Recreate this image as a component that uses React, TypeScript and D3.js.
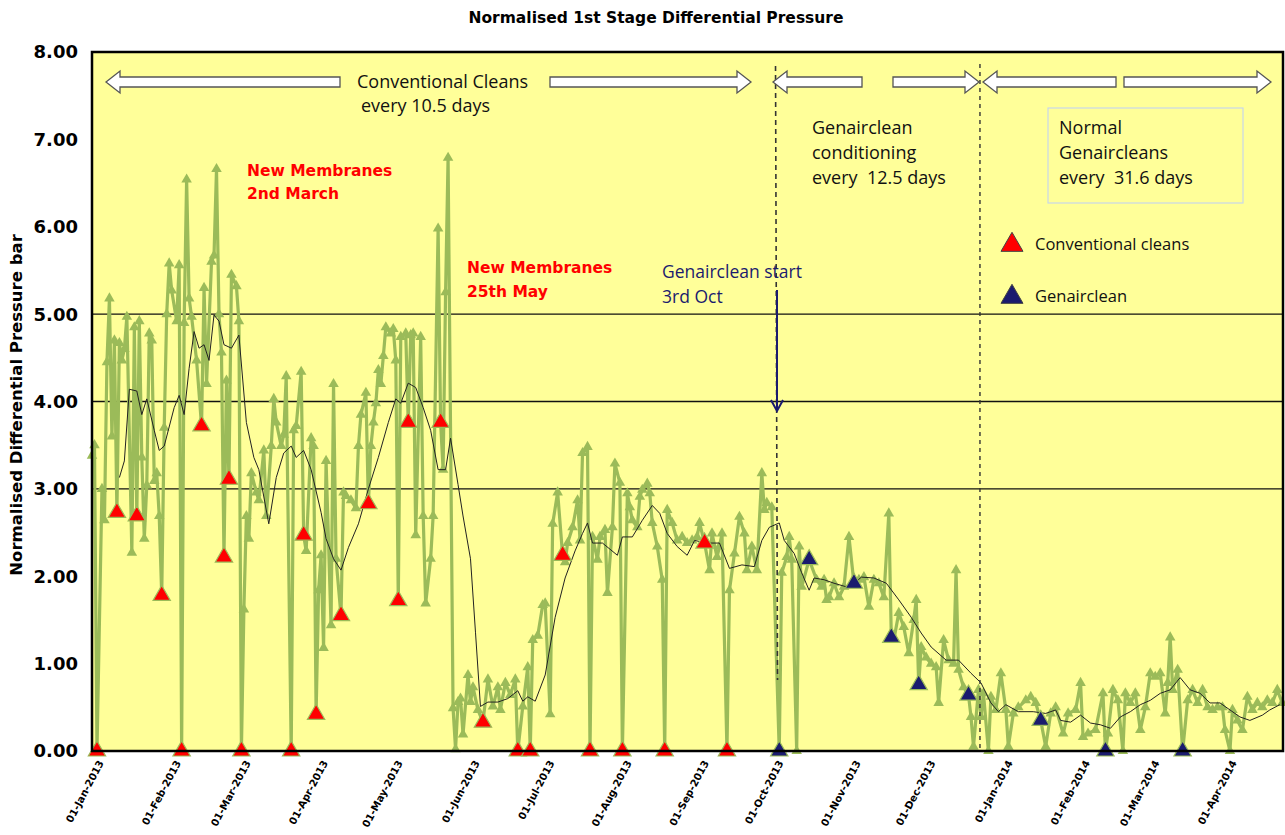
import React, { useEffect, useRef } from 'react';
import * as d3 from 'd3';

// daily normalised dP readings (day offset from 01-Jan-2013, bar)
const dpDays = [
  0, 1, 2, 4, 5, 6, 7, 8, 9, 10, 11, 12, 13, 14, 16, 17, 18, 19, 20, 21, 22, 23, 24, 25, 26, 27, 28, 29, 30, 31,
  32, 34, 35, 36, 37, 38, 39, 40, 42, 44, 45, 46, 48, 49, 50, 51, 52, 53, 54, 55, 56, 58, 59, 60, 61, 62, 63, 64,
  66, 67, 69, 70, 72, 73, 74, 76, 77, 78, 80, 81, 82, 84, 85, 86, 88, 89, 90, 91, 92, 93, 94, 96, 97, 98, 100,
  101, 102, 104, 106, 107, 108, 110, 111, 112, 113, 114, 115, 116, 117, 118, 120, 121, 122, 123, 124, 126, 127,
  128, 129, 130, 132, 133, 134, 136, 137, 139, 140, 141, 142, 143, 145, 146, 147, 148, 149, 151, 152, 153, 155,
  157, 159, 161, 163, 164, 166, 168, 170, 171, 173, 175, 176, 177, 179, 181, 182, 184, 185, 187, 189, 190, 191,
  193, 195, 196, 197, 199, 200, 201, 203, 204, 206, 207, 209, 210, 212, 213, 215, 216, 217, 219, 220, 221, 223,
  224, 225, 227, 229, 230, 231, 233, 235, 237, 239, 241, 243, 244, 246, 248, 249, 251, 252, 253, 255, 256, 258,
  260, 262, 263, 265, 267, 269, 270, 271, 273, 276, 277, 279, 280, 281, 283, 284, 285, 288, 291, 293, 294, 295,
  296, 298, 300, 302, 304, 306, 308, 310, 312, 314, 316, 318, 320, 321, 322, 324, 326, 328, 330, 331, 332, 333,
  335, 337, 339, 340, 342, 344, 346, 347, 348, 350, 352, 353, 354, 356, 357, 358, 360, 361, 363, 365, 367, 368,
  370, 372, 375, 377, 379, 381, 383, 385, 387, 390, 392, 395, 397, 398, 400, 403, 406, 407, 408, 410, 412, 414,
  415, 417, 419, 421, 423, 425, 427, 429, 431, 432, 433, 434, 436, 438, 440, 442, 444, 446, 448, 450, 452, 454,
  455, 457, 458, 460, 462, 464, 466, 468, 470, 472, 474, 476, 478
];
const dpValues = [
  3.38, 3.5, 0, 3.0, 2.64, 4.45, 5.18, 3.6, 4.7, 2.73, 4.67, 4.47, 4.6, 4.97, 2.27, 4.85, 2.69, 4.92, 3.36, 2.43,
  3.04, 4.78, 4.7, 3.09, 3.18, 2.69, 1.78, 3.7, 5.0, 5.58,
  5.27, 4.92, 5.56, 0, 4.9, 6.54, 5.18, 4.97, 4.47, 3.72, 5.3, 4.2, 5.6, 5.67, 6.66, 5.0, 4.56, 2.22, 4.24, 3.11,
  5.45, 5.32, 4.92, 0, 1.62, 2.69, 2.43, 3.18,
  2.96, 2.87, 3.44, 2.69, 3.49, 4.03, 3.76, 3.49, 3.62, 4.29, 0, 3.67, 3.72, 4.34, 2.47, 2.29, 3.58, 3.49, 0.42,
  1.84, 2.24, 1.18, 3.32, 1.44, 4.2, 2.2, 1.55,
  2.96, 2.92, 2.87, 2.78, 3.49, 3.85, 4.1, 2.83, 3.49, 3.76, 3.98, 4.36, 4.2, 4.52, 4.85, 4.78, 4.83, 4.47, 1.72,
  4.74, 4.78, 3.76,
  4.76, 4.78, 2.47, 4.74, 2.69, 1.69, 2.2, 2.69, 5.98, 3.76, 3.22, 5.25, 6.79, 0.49, 0.02, 0.56, 0.6, 0.19, 0.87,
  0.56, 0.73, 0.47,
  0.33, 0.82, 0.51, 0.73, 0.47, 0.78, 0.64, 0.82, 0, 0.51, 0.96, 0, 1.27, 1.32, 1.67, 1.69, 0.42, 2.6, 2.96, 2.24,
  2.16, 2.38,
  2.56, 2.87, 2.41, 3.41, 3.48, 0, 2.45, 2.19, 2.45, 2.53, 1.81, 2.56, 3.29, 3.07, 0, 2.95, 2.79, 2.64, 2.56, 2.91,
  2.99, 3.06,
  2.95, 2.61, 2.34, 1.96, 0, 2.76, 2.61, 2.41, 2.45, 2.38, 2.41, 2.45, 2.61, 2.38, 2.07, 2.49, 2.22, 2.34, 2.49, 0,
  1.84, 2.26,
  2.68, 2.49, 2.07, 2.34, 2.07, 3.18, 2.76, 2.84, 2.79, 0, 2.04, 2.22, 2.45, 2.19, 0, 2.34, 1.88, 2.19, 1.96, 1.88,
  1.96, 1.73,
  1.76, 1.92, 1.76, 1.88, 2.45, 1.92, 1.96, 1.99, 1.65, 1.96, 1.92, 1.76, 2.72, 1.3, 1.27, 1.58, 1.42, 1.12, 1.5,
  1.73, 0.76, 1.19,
  1.07, 1.0, 0.96, 0.55, 1.27, 1.04, 1.0, 2.07, 0.93, 0.73, 0.64, 0.39, 0.05, 0.7, 0.39, 0.66, 0, 0.62, 0.47, 0.89,
  0.47, 0.05,
  0.43, 0.5, 0.58, 0.62, 0.55, 0.35, 0.05, 0.43, 0.5, 0.2, 0.43, 0.47, 0.78, 0.16, 0.2, 0.24, 0.66, 0, 0.2, 0.7,
  0.58, 0,
  0.66, 0.55, 0.66, 0.24, 0.5, 0.89, 0.85, 0.89, 0.43, 0.78, 1.3, 0.7, 0.93, 0, 0.58, 0.7, 0.55, 0.7, 0.5, 0.47,
  0.5, 0.5,
  0.24, 0, 0.47, 0.35, 0.24, 0.62, 0.47, 0.55, 0.5, 0.58, 0.55, 0.7, 0.55
];

// moving average trend
const trendDays = [
  11, 13, 15, 18, 20, 22, 25, 27, 29, 33, 35, 37, 39, 41, 43, 45, 47, 49, 51, 53, 56, 59, 62, 65, 67, 71, 74, 77,
  80, 82, 85, 88, 92, 94, 97, 100, 103, 107, 111, 115, 119, 122, 124, 127, 130, 133, 136, 139, 142, 144, 147, 149,
  152, 154, 156, 159, 163, 167, 171, 173, 175, 178, 182, 186, 190, 194, 197, 199, 201, 205, 211, 213, 217, 221,
  225, 228, 231, 235, 239, 242, 247, 252, 256, 261, 266, 269, 272, 276, 278, 282, 285, 288, 290, 294, 298, 304,
  309, 314, 319, 324, 329, 333, 337, 343, 348, 353, 357, 361, 364, 367, 372, 378, 383, 387, 389, 393, 397, 401,
  405, 409, 413, 417, 421, 425, 429, 433, 437, 441, 445, 449, 453, 457, 461, 465, 470, 473, 477
];
const trendValues = [
  3.13, 3.32, 4.14, 4.12, 3.85, 4.03, 3.67, 3.44, 3.49, 3.93, 4.07, 3.85, 4.38, 4.8, 4.61, 4.65, 4.47, 4.99, 4.92,
  4.65, 4.61, 4.76, 3.76, 3.36, 3.22, 2.6, 3.13, 3.41,
  3.49, 3.36, 3.44, 3.22, 2.73, 2.43, 2.2, 2.07, 2.33, 2.6, 3.0, 3.36, 3.76, 4.03, 3.98, 4.21, 4.16, 3.93, 3.67,
  3.22, 3.22, 3.58, 3.05, 2.69,
  2.2, 1.36, 0.51, 0.56, 0.56, 0.6, 0.69, 0.57, 0.62, 0.57, 0.87, 1.53, 1.98, 2.29, 2.49, 2.61, 2.38, 2.38, 2.24,
  2.45, 2.45, 2.64,
  2.81, 2.72, 2.49, 2.34, 2.24, 2.41, 2.38, 2.38, 2.09, 2.13, 2.11, 2.41, 2.56, 2.61, 2.41, 2.26, 2.04, 1.84, 1.98,
  1.96, 1.92, 1.87,
  1.99, 1.98, 1.92, 1.73, 1.53, 1.35, 1.19, 1.04, 1.04, 0.89, 0.78, 0.55, 0.45, 0.53, 0.45, 0.45, 0.43, 0.47, 0.35,
  0.33, 0.41, 0.32,
  0.3, 0.26, 0.39, 0.45, 0.53, 0.58, 0.66, 0.7, 0.84, 0.7, 0.66, 0.55, 0.55, 0.47, 0.39, 0.35, 0.41, 0.47, 0.53
];

// conventional cleans (red) and Genairclean (navy) events
const conventionalDays = [2, 10, 18, 28, 36, 44, 53, 55, 60, 80, 85, 90, 100, 111, 123, 127, 140, 157, 171, 176, 189, 200, 213, 230, 246, 255];
const conventionalValues = [0, 2.73, 2.69, 1.78, 0, 3.72, 2.22, 3.11, 0, 0, 2.47, 0.42, 1.55, 2.83, 1.72, 3.76, 3.76, 0.33, 0, 0, 2.24, 0, 0, 0, 2.38, 0];
const genaircleanDays = [276, 288, 306, 321, 332, 352, 381, 407, 438];
const genaircleanValues = [0, 2.19, 1.92, 1.3, 0.76, 0.64, 0.35, 0, 0];

const yTicks = [0, 1, 2, 3, 4, 5, 6, 7, 8];
const gridValues = [3, 4, 5];
const lastDay = 478.3;

const GREEN = '#9BBB59';
const RED = '#FF0000';
const NAVY = '#1B1B6E';

const App: React.FC = () => {
  const svgRef = useRef<SVGSVGElement>(null);

  useEffect(() => {
    if (!svgRef.current) return;
    const svg = d3.select(svgRef.current);
    svg.selectAll('*').remove();

    const left = 92, right = 1283, top = 52, bottom = 751;
    const start = new Date(Date.UTC(2013, 0, 1));
    const toDate = (d: number) => new Date(start.getTime() + d * 86400000);

    const x = d3.scaleUtc().domain([start, toDate(lastDay)]).range([left, right]);
    const y = d3.scaleLinear().domain([0, 8]).range([bottom, top]);

    // plot area
    svg.append('rect')
      .attr('x', left).attr('y', top)
      .attr('width', right - left).attr('height', bottom - top)
      .attr('fill', '#FFFF99');

    svg.selectAll('line.grid')
      .data(gridValues)
      .enter().append('line')
      .attr('x1', left).attr('x2', right)
      .attr('y1', d => y(d)).attr('y2', d => y(d))
      .attr('stroke', '#111').attr('stroke-width', 1.3);

    // main series
    const pts = dpDays.map((d, i) => ({ date: toDate(d), v: dpValues[i] }));
    const line = d3.line<{ date: Date; v: number }>().x(d => x(d.date)).y(d => y(d.v));
    svg.append('path')
      .datum(pts)
      .attr('fill', 'none')
      .attr('stroke', GREEN)
      .attr('stroke-width', 3.2)
      .attr('stroke-linejoin', 'round')
      .attr('d', line);

    const smallTri = d3.symbol().type(d3.symbolTriangle).size(48)();
    svg.append('g').selectAll('path')
      .data(pts)
      .enter().append('path')
      .attr('d', smallTri)
      .attr('transform', d => `translate(${x(d.date)},${y(d.v)})`)
      .attr('fill', GREEN);

    // moving average
    const trend = trendDays.map((d, i) => ({ date: toDate(d), v: trendValues[i] }));
    svg.append('path')
      .datum(trend)
      .attr('fill', 'none')
      .attr('stroke', '#222')
      .attr('stroke-width', 1)
      .attr('d', line);

    // vertical phase markers
    const phase1 = x(toDate(274.5));
    const phase2 = x(toDate(356.6));
    svg.append('line')
      .attr('x1', phase1).attr('x2', phase1 + 2).attr('y1', 66).attr('y2', 680)
      .attr('stroke', '#333').attr('stroke-width', 1.6).attr('stroke-dasharray', '5,4');
    svg.append('line')
      .attr('x1', phase2).attr('x2', phase2).attr('y1', 64).attr('y2', bottom)
      .attr('stroke', '#333').attr('stroke-width', 1.4).attr('stroke-dasharray', '4,4');

    // clean markers
    const bigTri = d3.symbol().type(d3.symbolTriangle).size(130)();
    svg.append('g').selectAll('path')
      .data(conventionalDays.map((d, i) => ({ date: toDate(d), v: conventionalValues[i] })))
      .enter().append('path')
      .attr('d', bigTri)
      .attr('transform', d => `translate(${x(d.date)},${y(d.v)})`)
      .attr('fill', RED).attr('stroke', GREEN).attr('stroke-width', 1.2);
    svg.append('g').selectAll('path')
      .data(genaircleanDays.map((d, i) => ({ date: toDate(d), v: genaircleanValues[i] })))
      .enter().append('path')
      .attr('d', bigTri)
      .attr('transform', d => `translate(${x(d.date)},${y(d.v)})`)
      .attr('fill', NAVY).attr('stroke', GREEN).attr('stroke-width', 1.2);

    // frame
    svg.append('rect')
      .attr('x', left).attr('y', top)
      .attr('width', right - left).attr('height', bottom - top)
      .attr('fill', 'none').attr('stroke', '#000').attr('stroke-width', 2.5);

    // y axis labels
    svg.append('g').selectAll('text')
      .data(yTicks)
      .enter().append('text')
      .attr('x', 78).attr('y', d => y(d))
      .attr('dy', '0.36em')
      .attr('text-anchor', 'end')
      .style('font-family', 'DejaVu Sans')
      .style('font-weight', 'bold')
      .style('font-size', '18px')
      .text(d => d.toFixed(2));

    svg.append('text')
      .attr('transform', 'translate(22,405) rotate(-90)')
      .attr('text-anchor', 'middle')
      .style('font-family', 'DejaVu Sans')
      .style('font-weight', 'bold')
      .style('font-size', '16.5px')
      .text('Normalised Differential Pressure bar');

    // x axis labels
    const fmt = d3.utcFormat('%d-%b-%Y');
    svg.append('g').selectAll('text')
      .data(d3.utcMonth.range(start, toDate(lastDay)))
      .enter().append('text')
      .attr('transform', d => `translate(${x(d) + 9},${761}) rotate(-62)`)
      .attr('text-anchor', 'end')
      .attr('dy', '0.35em')
      .style('font-family', 'DejaVu Sans')
      .style('font-weight', 'bold')
      .style('font-size', '10.2px')
      .text(d => fmt(d));

    // title
    svg.append('text')
      .attr('x', 656).attr('y', 23)
      .attr('text-anchor', 'middle')
      .style('font-family', 'DejaVu Sans')
      .style('font-weight', 'bold')
      .style('font-size', '15.5px')
      .text('Normalised 1st Stage Differential Pressure');

    // block arrows
    const blockArrow = (tip: number, tail: number, cy: number) => {
      const dir = tail > tip ? 1 : -1;
      const hl = 14 * dir, hh = 11, sh = 5;
      return `M${tip},${cy} L${tip + hl},${cy - hh} L${tip + hl},${cy - sh} L${tail},${cy - sh} ` +
        `L${tail},${cy + sh} L${tip + hl},${cy + sh} L${tip + hl},${cy + hh} Z`;
    };
    [[106, 340], [751, 550], [773, 862], [979, 893], [983, 1116], [1271, 1124]].forEach(([tip, tail]) => {
      svg.append('path')
        .attr('d', blockArrow(tip, tail, 82))
        .attr('fill', '#fff').attr('stroke', '#555').attr('stroke-width', 1.3);
    });

    const label = (tx: number, ty: number, lines: string[], color: string, size: number, weight: string, family: string, gap: number) => {
      const t = svg.append('text')
        .attr('x', tx).attr('y', ty)
        .style('font-family', family)
        .style('font-size', `${size}px`)
        .style('font-weight', weight)
        .attr('fill', color);
      lines.forEach((s, i) => {
        t.append('tspan').attr('x', tx).attr('dy', i === 0 ? 0 : gap).attr('xml:space', 'preserve').text(s);
      });
    };

    label(357, 88, ['Conventional Cleans'], '#111', 18, 'normal', 'Open Sans', 25);
    label(361, 112, ['every 10.5 days'], '#111', 18, 'normal', 'Open Sans', 25);
    label(812, 134, ['Genairclean', 'conditioning', 'every  12.5 days'], '#111', 18, 'normal', 'Open Sans', 25);

    svg.append('rect')
      .attr('x', 1048).attr('y', 108).attr('width', 195).attr('height', 95)
      .attr('fill', 'none').attr('stroke', '#C9D7EA').attr('stroke-width', 1.2);
    label(1059, 134, ['Normal', 'Genaircleans', 'every  31.6 days'], '#111', 18, 'normal', 'Open Sans', 25);

    label(247, 176, ['New Membranes', '2nd March'], RED, 15.5, 'bold', 'DejaVu Sans', 23);
    label(467, 273, ['New Membranes', '25th May'], RED, 15.5, 'bold', 'DejaVu Sans', 24);
    label(662, 278, ['Genairclean start', '3rd Oct'], NAVY, 17.5, 'normal', 'Open Sans', 25);

    // Genairclean start arrow
    svg.append('line')
      .attr('x1', 777).attr('x2', 777).attr('y1', 290).attr('y2', 410)
      .attr('stroke', NAVY).attr('stroke-width', 2);
    svg.append('path')
      .attr('d', 'M771,400 L777,411 L783,400')
      .attr('fill', 'none').attr('stroke', NAVY).attr('stroke-width', 2);

    // legend
    const legendTri = d3.symbol().type(d3.symbolTriangle).size(210)();
    [[RED, 'Conventional cleans', 245], [NAVY, 'Genairclean', 297]].forEach(([c, t, ly]) => {
      svg.append('path')
        .attr('d', legendTri)
        .attr('transform', `translate(1012,${ly})`)
        .attr('fill', c as string).attr('stroke', '#444').attr('stroke-width', 1);
      svg.append('text')
        .attr('x', 1035).attr('y', (ly as number) + 5)
        .style('font-family', 'Open Sans')
        .style('font-size', '16.5px')
        .attr('fill', '#111')
        .text(t as string);
    });
  }, []);

  return (
    <svg
      ref={svgRef}
      width={1285}
      height={835}
      style={{ position: 'absolute', left: 0, top: 0, background: '#fff' }}
    />
  );
};

export default App;
